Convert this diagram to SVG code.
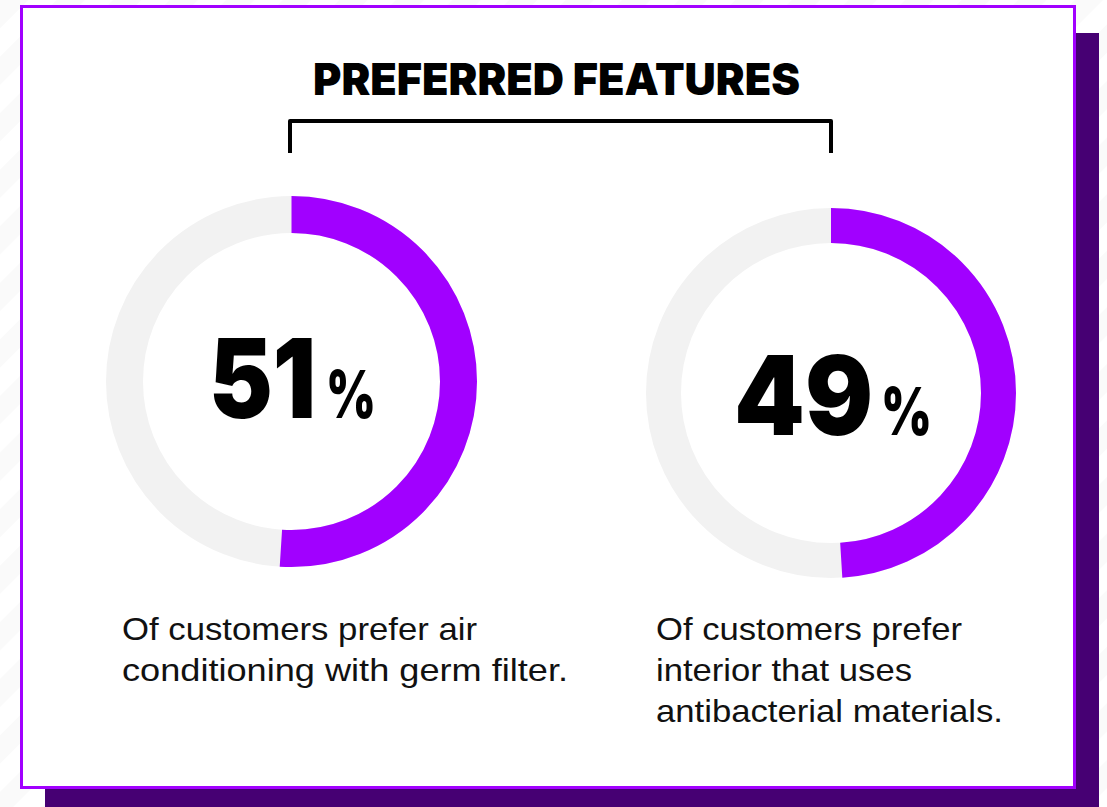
<svg xmlns="http://www.w3.org/2000/svg" width="1107" height="807" viewBox="0 0 1107 807">
  <defs>
    <pattern id="stripes" patternUnits="userSpaceOnUse" width="40" height="40" patternTransform="rotate(45)">
      <rect width="40" height="40" fill="#ffffff"/>
      <rect width="20" height="40" fill="#fafafa"/>
    </pattern>
  </defs>
  <style>
    .track { fill: none; stroke: #f2f2f2; }
    .value { fill: none; stroke: #a100ff; }
    .big { font-family: "Inter", "Roboto", "Liberation Sans", sans-serif; font-weight: 900; fill: #000; }
    .body { font-family: "Liberation Sans", "Inter", sans-serif; font-size: 32px; fill: #111; }
  </style>
  <rect x="0" y="0" width="1107" height="807" fill="url(#stripes)"/>
  <g id="frame">
    <rect x="45" y="33" width="1054" height="774" fill="#460073"/>
    <rect x="21.5" y="6.5" width="1053" height="781" fill="#ffffff" stroke="#a100ff" stroke-width="3"/>
  </g>
  <g id="title">
    <text class="big" x="313" y="95" font-size="44" textLength="487" lengthAdjust="spacingAndGlyphs">PREFERRED FEATURES</text>
  </g>
  <g id="connectors">
    <path d="M290 153 V121 H831 V153" fill="none" stroke="#000" stroke-width="4" stroke-linejoin="round"/>
  </g>
  <g id="donut-51">
    <circle class="track" cx="291.5" cy="381.5" r="167" stroke-width="37"/>
    <circle class="value" cx="291.5" cy="381.5" r="167" stroke-width="37" stroke-dasharray="535.1 1100" transform="rotate(-90 291.5 381.5)"/>
    <text class="big" y="418"><tspan x="209" font-size="110" textLength="107" lengthAdjust="spacingAndGlyphs">51</tspan><tspan x="326" font-size="66" textLength="50" lengthAdjust="spacingAndGlyphs">%</tspan></text>
  </g>
  <g id="donut-49">
    <circle class="track" cx="831" cy="393" r="167.5" stroke-width="35"/>
    <circle class="value" cx="831" cy="393" r="167.5" stroke-width="35" stroke-dasharray="515.7 1100" transform="rotate(-90 831 393)"/>
    <text class="big" y="435"><tspan x="734" font-size="110" textLength="139" lengthAdjust="spacingAndGlyphs">49</tspan><tspan x="881" font-size="66" textLength="51" lengthAdjust="spacingAndGlyphs">%</tspan></text>
  </g>
  <g id="caption-left">
    <text class="body" x="122" y="640" textLength="355" lengthAdjust="spacingAndGlyphs">Of customers prefer air</text>
    <text class="body" x="122" y="681" textLength="446" lengthAdjust="spacingAndGlyphs">conditioning with germ filter.</text>
  </g>
  <g id="caption-right">
    <text class="body" x="656" y="640" textLength="306" lengthAdjust="spacingAndGlyphs">Of customers prefer</text>
    <text class="body" x="656" y="681" textLength="256" lengthAdjust="spacingAndGlyphs">interior that uses</text>
    <text class="body" x="656" y="722" textLength="347" lengthAdjust="spacingAndGlyphs">antibacterial materials.</text>
  </g>
</svg>
